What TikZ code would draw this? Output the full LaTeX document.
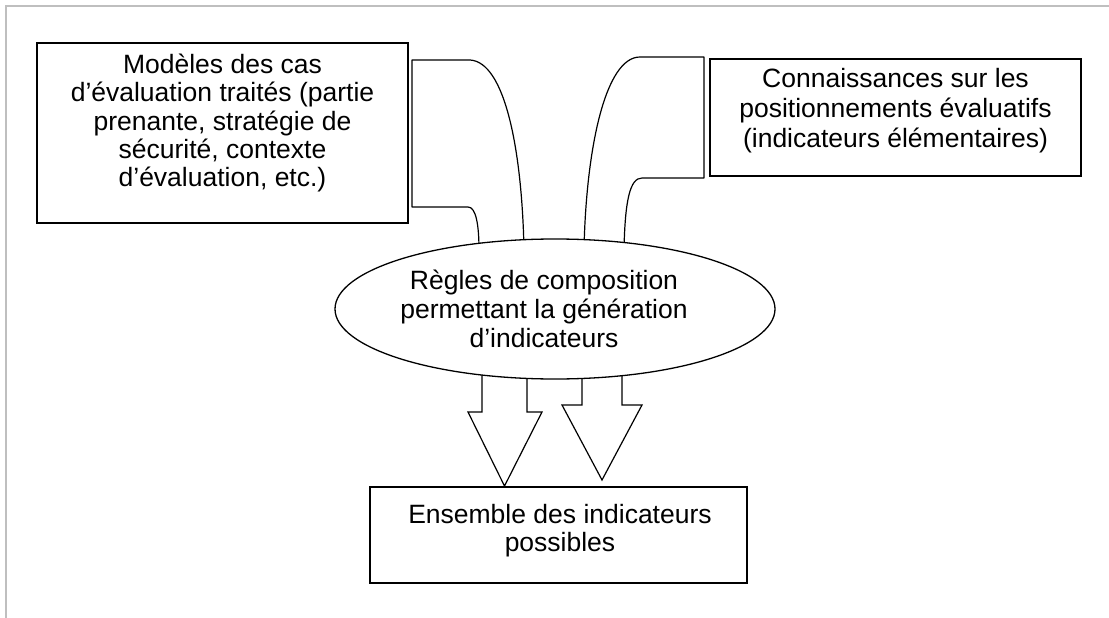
\documentclass[tikz,border=0pt]{standalone}
\usepackage{fontspec}
\setmainfont{Liberation Sans}
\usetikzlibrary{shapes.geometric}
\begin{document}
\begin{tikzpicture}[x=1pt,y=-1pt,
  frame/.style={draw=black!25,line width=2pt},
  box/.style={draw,line width=1.3pt,rectangle,inner sep=0pt},
  oval/.style={draw,line width=1.3pt,fill=white,ellipse,inner sep=0pt},
  band/.style={draw,line width=1.2pt,fill=white,line join=round},
  bigarrow/.style={draw,line width=1.2pt,fill=white,line join=miter},
  txt/.style={inner sep=0pt,align=center,font=\fontsize{26.5}{29}\selectfont}]
\useasboundingbox (0,0) rectangle (1109,618);
\draw[frame] (6,618) -- (6,6) -- (1109,6);

% boxes
\node[box,minimum width=371pt,minimum height=180pt] (models) at (222.5,133) {};
\node[box,minimum width=371pt,minimum height=117pt] (know) at (895.5,117.5) {};
\node[box,minimum width=377pt,minimum height=96pt] (result) at (558.5,535) {};

% curved bands into the ellipse
\coordinate (la) at (524,250);
\coordinate (lb) at (479,250);
\coordinate (ra) at (584,250);
\coordinate (rb) at (624,250);
\draw[band] (lb) .. controls (479,225) and (476,207) .. (468,207)
  -- (412,207) -- (412,60) -- (470,60)
  .. controls (505,62) and (522,150) .. (la);
\draw[band] (ra) .. controls (586,150) and (605,57) .. (640,57)
  -- (704,57) -- (704,178) -- (642,178)
  .. controls (630,178) and (625,200) .. (rb);

% block arrows to result
\coordinate (a1) at (504.5,486);
\coordinate (a2) at (602,480);
\draw[bigarrow] (482,360) -- (482,412) -- (468,412) -- (a1) -- (542,412) -- (527,412) -- (527,360);
\draw[bigarrow] (582,360) -- (582,405) -- (562,405) -- (a2) -- (642,405) -- (622,405) -- (622,360);

% ellipse on top
\node[oval,minimum width=440pt,minimum height=140pt] (rules) at (555,309) {};

% texts
\node[txt,font=\fontsize{26.5}{28.4}\selectfont] (tmodels) at (222.5,123) {Modèles des cas\\d’évaluation traités (partie\\prenante, stratégie de\\sécurité, contexte\\d’évaluation, etc.)};
\node[txt,font=\fontsize{26.5}{30}\selectfont] (tknow) at (895.5,111) {Connaissances sur les\\positionnements évaluatifs\\(indicateurs élémentaires)};
\node[txt] (trules) at (544,309) {Règles de composition\\permettant la génération\\d’indicateurs};
\node[txt,font=\fontsize{26.5}{28}\selectfont] (tresult) at (560,531) {Ensemble des indicateurs\\possibles};
\end{tikzpicture}
\end{document}
